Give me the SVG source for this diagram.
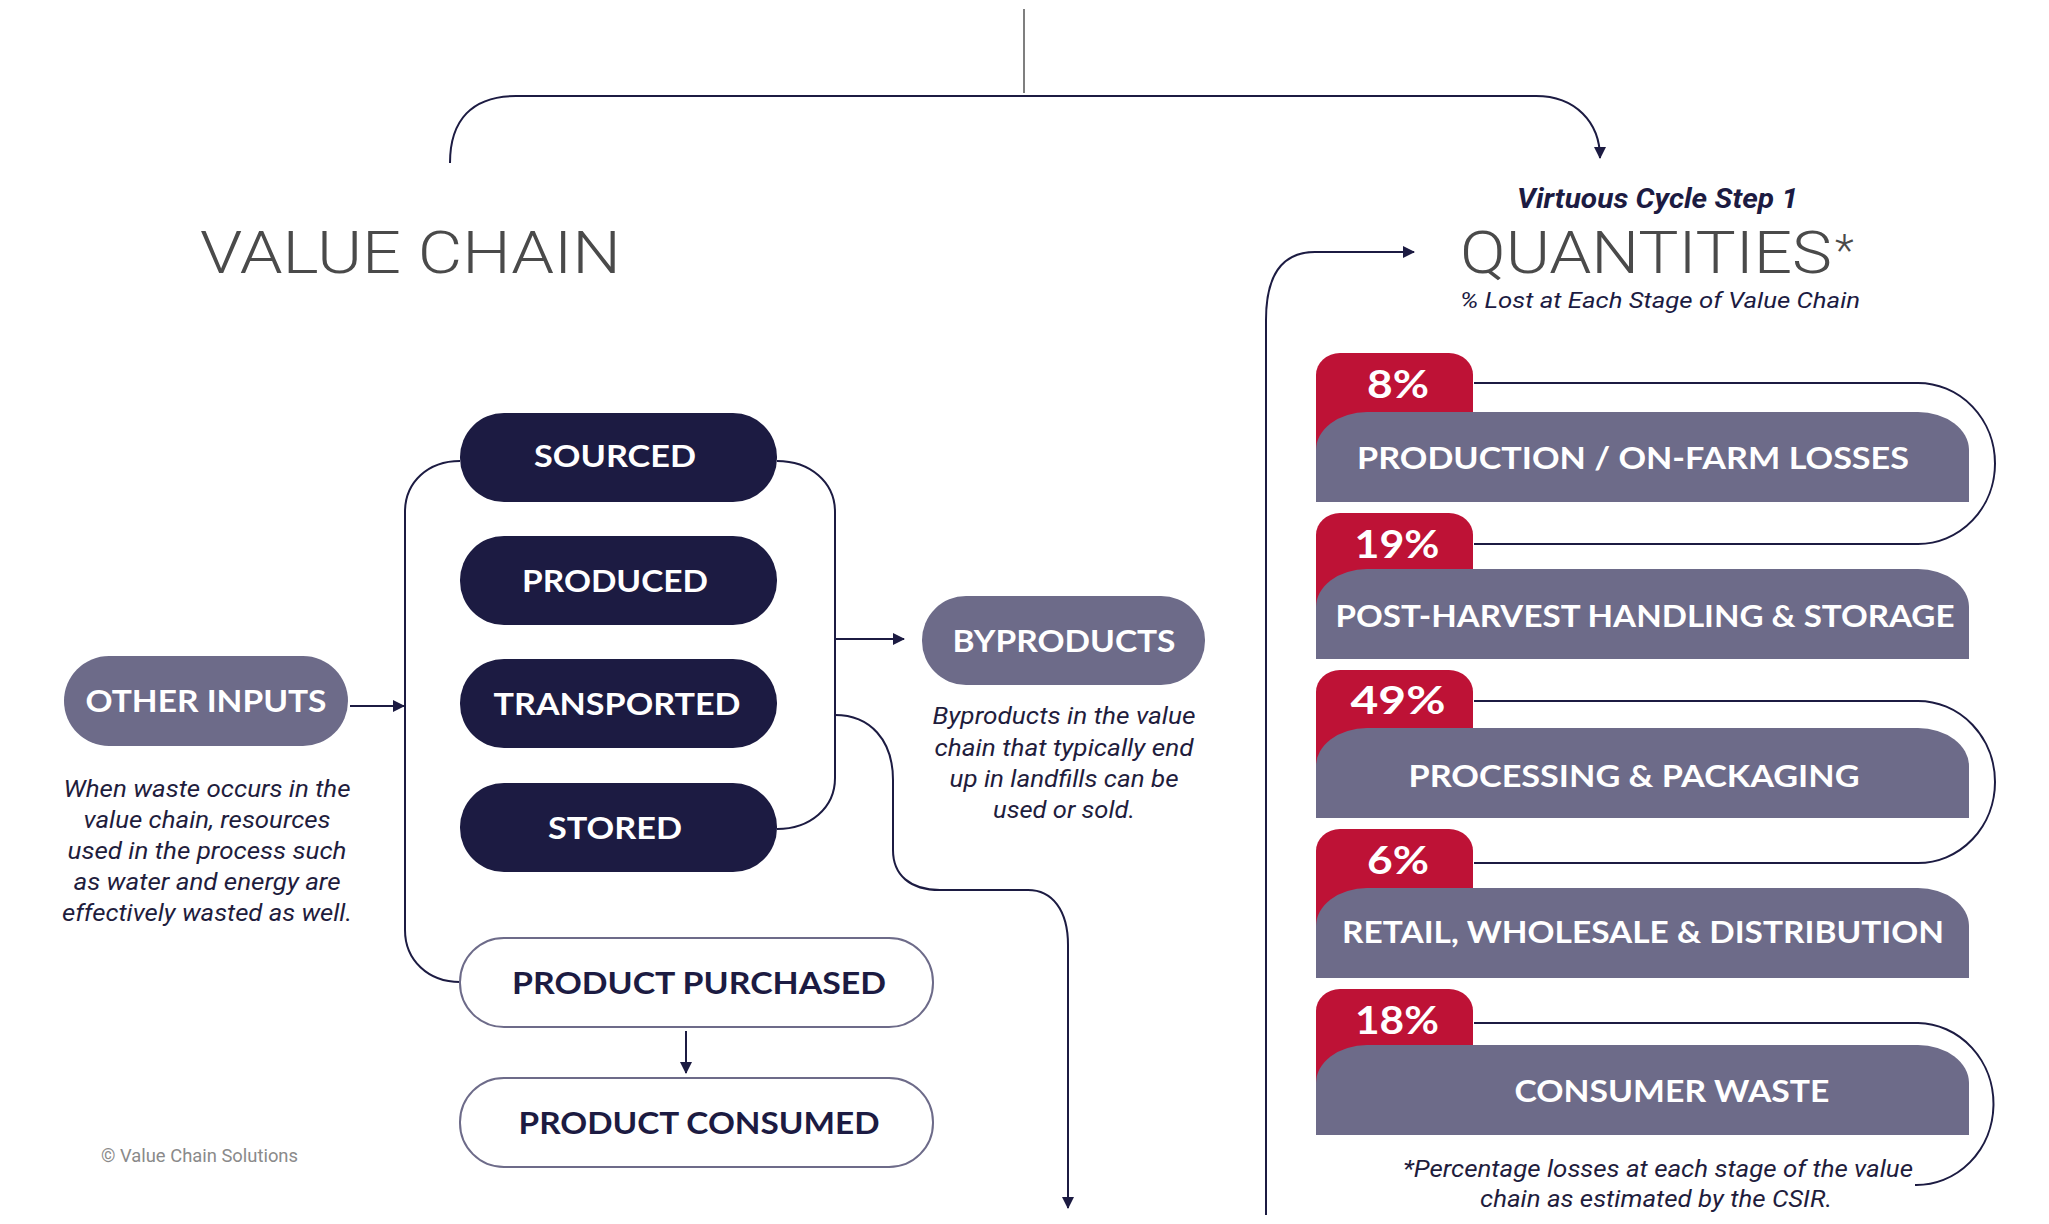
<svg xmlns="http://www.w3.org/2000/svg" width="2049" height="1224" viewBox="0 0 2049 1224">
<style>
.conn{fill:none;stroke:#1c1b42;stroke-width:2}
.thin{fill:none;stroke:#555;stroke-width:1.5}
.navy{fill:#1c1b42}
.gray{fill:#6d6b89}
.red{fill:#be1236}
.outl{fill:#fff;stroke:#6d6b89;stroke-width:2}
.lbl{font-family:Lato,"Open Sans","Liberation Sans",sans-serif;font-weight:700;font-size:31px;fill:#fff;text-anchor:middle}
.lbld{font-family:Lato,"Open Sans","Liberation Sans",sans-serif;font-weight:700;font-size:31px;fill:#1c1b42;text-anchor:middle}
.pct{font-family:Lato,"Open Sans","Liberation Sans",sans-serif;font-weight:700;font-size:38px;fill:#fff;text-anchor:middle}
.title{font-family:Roboto,Lato,"Liberation Sans",sans-serif;font-weight:300;font-size:60px;fill:#4a4a4a}
.para{font-family:Roboto,"Liberation Sans",sans-serif;font-style:italic;font-size:23px;fill:#1f1d3d;text-anchor:middle}
.sub{font-family:Roboto,"Liberation Sans",sans-serif;font-style:italic;font-size:22px;fill:#1c1b42}
.step{font-family:Roboto,"Liberation Sans",sans-serif;font-style:italic;font-weight:700;font-size:28px;fill:#1c1b42}
.copy{font-family:Roboto,"Liberation Sans",sans-serif;font-size:19px;fill:#8a8a8a}
</style>
<defs>
<marker id="arr" markerUnits="userSpaceOnUse" markerWidth="12" markerHeight="12" refX="11" refY="6" orient="auto">
<path d="M0,0 L12,6 L0,12 Z" fill="#1c1b42"/>
</marker>
</defs>
<rect width="2049" height="1224" fill="#fff"/>

<g id="connectors">
<path class="thin" d="M1024,9 L1024,93"/>
<path class="conn" d="M450,163 C450,120 472,96 516,96 L1536,96 C1575,96 1600,122 1600,158" marker-end="url(#arr)"/>
<path class="conn" d="M1266,1215 L1266,320 C1266,275 1282,252 1315,252 L1414,252" marker-end="url(#arr)"/>
<path class="conn" d="M460,461 C428,461 405,482 405,512 L405,930 C405,960 428,982 460,982"/>
<path class="conn" d="M777,461 C810,461 835,482 835,512 L835,778 C835,808 810,829 777,829"/>
<path class="conn" d="M350,706 L404,706" marker-end="url(#arr)"/>
<path class="conn" d="M835,639 L904,639" marker-end="url(#arr)"/>
<path class="conn" d="M835,715 C870,715 893,740 893,780 L893,850 C893,875 910,890 940,890 L1028,890 C1052,890 1068,910 1068,945 L1068,1208" marker-end="url(#arr)"/>
<path class="conn" d="M686,1031 L686,1073" marker-end="url(#arr)"/>
<path class="conn" d="M1474,383 L1918,383 A77,80.5 0 0 1 1918,544 L1474,544"/>
<path class="conn" d="M1474,701 L1918,701 A77,81 0 0 1 1918,863 L1474,863"/>
<path class="conn" d="M1474,1023 L1918,1023 A77,81 0 0 1 1915,1185"/>
</g>

<g id="titles">
<text class="title" x="200" y="273" textLength="421" lengthAdjust="spacingAndGlyphs">VALUE CHAIN</text>
<text class="step" x="1517" y="208" textLength="281" lengthAdjust="spacingAndGlyphs">Virtuous Cycle Step 1</text>
<text class="title" x="1460" y="273" textLength="372" lengthAdjust="spacingAndGlyphs">QUANTITIES</text>
<text class="title" x="1835" y="266" style="font-size:44px">*</text>
<text class="sub" x="1460" y="308" textLength="400" lengthAdjust="spacingAndGlyphs">% Lost at Each Stage of Value Chain</text>
</g>

<g id="other-inputs">
<rect class="gray" x="64" y="656" width="284" height="90" rx="45"/>
<text class="lbl" x="206" y="712" textLength="241" lengthAdjust="spacingAndGlyphs">OTHER INPUTS</text>
</g>
<g id="other-inputs-note">
<text class="para" x="207" y="797" textLength="287" lengthAdjust="spacingAndGlyphs">When waste occurs in the</text>
<text class="para" x="207" y="828" textLength="247" lengthAdjust="spacingAndGlyphs">value chain, resources</text>
<text class="para" x="207" y="859" textLength="279" lengthAdjust="spacingAndGlyphs">used in the process such</text>
<text class="para" x="207" y="890" textLength="267" lengthAdjust="spacingAndGlyphs">as water and energy are</text>
<text class="para" x="207" y="921" textLength="290" lengthAdjust="spacingAndGlyphs">effectively wasted as well.</text>
</g>

<g id="sourced">
<rect class="navy" x="460" y="413" width="317" height="89" rx="44"/>
<text class="lbl" x="615" y="467" textLength="162" lengthAdjust="spacingAndGlyphs">SOURCED</text>
</g>
<g id="produced">
<rect class="navy" x="460" y="536" width="317" height="89" rx="44"/>
<text class="lbl" x="615" y="592" textLength="186" lengthAdjust="spacingAndGlyphs">PRODUCED</text>
</g>
<g id="transported">
<rect class="navy" x="460" y="659" width="317" height="89" rx="44"/>
<text class="lbl" x="617" y="715" textLength="247" lengthAdjust="spacingAndGlyphs">TRANSPORTED</text>
</g>
<g id="stored">
<rect class="navy" x="460" y="783" width="317" height="89" rx="44"/>
<text class="lbl" x="615" y="839" textLength="134" lengthAdjust="spacingAndGlyphs">STORED</text>
</g>
<g id="product-purchased">
<rect class="outl" x="460" y="938" width="473" height="89" rx="44"/>
<text class="lbld" x="699" y="994" textLength="374" lengthAdjust="spacingAndGlyphs">PRODUCT PURCHASED</text>
</g>
<g id="product-consumed">
<rect class="outl" x="460" y="1078" width="473" height="89" rx="44"/>
<text class="lbld" x="699" y="1134" textLength="361" lengthAdjust="spacingAndGlyphs">PRODUCT CONSUMED</text>
</g>

<g id="byproducts">
<rect class="gray" x="922" y="596" width="283" height="89" rx="44"/>
<text class="lbl" x="1064" y="652" textLength="223" lengthAdjust="spacingAndGlyphs">BYPRODUCTS</text>
</g>
<g id="byproducts-note">
<text class="para" x="1064" y="724" textLength="263" lengthAdjust="spacingAndGlyphs">Byproducts in the value</text>
<text class="para" x="1064" y="756" textLength="259" lengthAdjust="spacingAndGlyphs">chain that typically end</text>
<text class="para" x="1064" y="787" textLength="229" lengthAdjust="spacingAndGlyphs">up in landfills can be</text>
<text class="para" x="1064" y="818" textLength="142" lengthAdjust="spacingAndGlyphs">used or sold.</text>
</g>

<g id="stage-1">
<path class="red" d="M1316,460 L1316,375 A24,22 0 0 1 1340,353 L1449,353 A24,22 0 0 1 1473,375 L1473,460 Z"/>
<path class="gray" d="M1316,502 L1316,450 A51,38 0 0 1 1367,412 L1918,412 A51,38 0 0 1 1969,450 L1969,502 Z"/>
<text class="pct" x="1398" y="398" textLength="62" lengthAdjust="spacingAndGlyphs">8%</text>
<text class="lbl" x="1633" y="469" textLength="552" lengthAdjust="spacingAndGlyphs">PRODUCTION / ON-FARM LOSSES</text>
</g>
<g id="stage-2">
<path class="red" d="M1316,617 L1316,535 A24,22 0 0 1 1340,513 L1449,513 A24,22 0 0 1 1473,535 L1473,617 Z"/>
<path class="gray" d="M1316,659 L1316,607 A51,38 0 0 1 1367,569 L1918,569 A51,38 0 0 1 1969,607 L1969,659 Z"/>
<text class="pct" x="1397" y="558" textLength="85" lengthAdjust="spacingAndGlyphs">19%</text>
<text class="lbl" x="1645" y="627" textLength="619" lengthAdjust="spacingAndGlyphs">POST-HARVEST HANDLING &amp; STORAGE</text>
</g>
<g id="stage-3">
<path class="red" d="M1316,776 L1316,692 A24,22 0 0 1 1340,670 L1449,670 A24,22 0 0 1 1473,692 L1473,776 Z"/>
<path class="gray" d="M1316,818 L1316,766 A51,38 0 0 1 1367,728 L1918,728 A51,38 0 0 1 1969,766 L1969,818 Z"/>
<text class="pct" x="1398" y="714" textLength="95" lengthAdjust="spacingAndGlyphs">49%</text>
<text class="lbl" x="1634" y="787" textLength="451" lengthAdjust="spacingAndGlyphs">PROCESSING &amp; PACKAGING</text>
</g>
<g id="stage-4">
<path class="red" d="M1316,936 L1316,851 A24,22 0 0 1 1340,829 L1449,829 A24,22 0 0 1 1473,851 L1473,936 Z"/>
<path class="gray" d="M1316,978 L1316,926 A51,38 0 0 1 1367,888 L1918,888 A51,38 0 0 1 1969,926 L1969,978 Z"/>
<text class="pct" x="1398" y="874" textLength="62" lengthAdjust="spacingAndGlyphs">6%</text>
<text class="lbl" x="1643" y="943" textLength="602" lengthAdjust="spacingAndGlyphs">RETAIL, WHOLESALE &amp; DISTRIBUTION</text>
</g>
<g id="stage-5">
<path class="red" d="M1316,1093 L1316,1011 A24,22 0 0 1 1340,989 L1449,989 A24,22 0 0 1 1473,1011 L1473,1093 Z"/>
<path class="gray" d="M1316,1135 L1316,1083 A51,38 0 0 1 1367,1045 L1918,1045 A51,38 0 0 1 1969,1083 L1969,1135 Z"/>
<text class="pct" x="1397" y="1034" textLength="84" lengthAdjust="spacingAndGlyphs">18%</text>
<text class="lbl" x="1672" y="1102" textLength="315" lengthAdjust="spacingAndGlyphs">CONSUMER WASTE</text>
</g>

<g id="footnote">
<text class="para" x="1658" y="1177" textLength="510" lengthAdjust="spacingAndGlyphs">*Percentage losses at each stage of the value</text>
<text class="para" x="1656" y="1207" textLength="352" lengthAdjust="spacingAndGlyphs">chain as estimated by the CSIR.</text>
</g>
<g id="copyright">
<text class="copy" x="101" y="1162" textLength="197" lengthAdjust="spacingAndGlyphs">© Value Chain Solutions</text>
</g>
</svg>
